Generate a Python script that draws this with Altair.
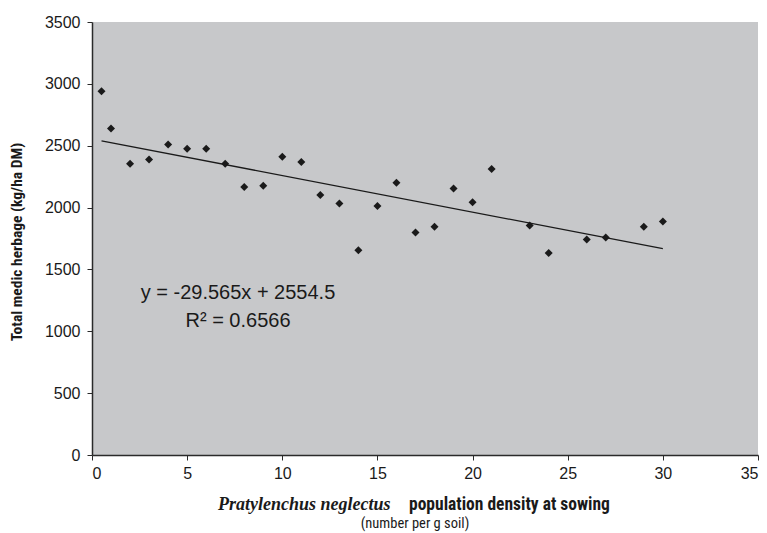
import altair as alt
import pandas as pd

# Data
density = [0.5, 1, 2, 3, 4, 5, 6, 7, 8, 9, 10, 11, 12, 13, 14, 15, 16, 17, 18, 19, 20, 21, 23, 24, 26, 27, 29, 30]
herbage = [2940, 2640, 2354, 2389, 2510, 2476, 2476, 2354, 2166, 2176, 2411, 2368, 2101, 2033, 1656, 2012,
           2200, 1799, 1845, 2155, 2044, 2311, 1855, 1632, 1742, 1758, 1845, 1888]

trend_x = [0.5, 30]
trend_y = [2539.7, 1667.6]

equation_lines = ["y = -29.565x + 2554.5", "R\u00b2 = 0.6566"]
x_ticks = [0, 5, 10, 15, 20, 25, 30, 35]
y_ticks = [0, 500, 1000, 1500, 2000, 2500, 3000, 3500]

pts = pd.DataFrame({"x": density, "y": herbage})
trend = pd.DataFrame({"x": trend_x, "y": trend_y})
one = pd.DataFrame({"k": [0]})

SANS = "Liberation Sans, Arial, Helvetica, sans-serif"
NARROW = "Liberation Sans Narrow, Arial Narrow, Roboto Condensed, DejaVu Sans Condensed, sans-serif"
SERIF = "Liberation Serif, Times New Roman, serif"

xscale = alt.Scale(domain=[0, 35], nice=False, zero=False)
yscale = alt.Scale(domain=[0, 3500], nice=False)

xaxis = alt.Axis(values=x_ticks, title=None, grid=False, format="d")
yaxis = alt.Axis(values=y_ticks, title=None, grid=False, format="d")

points = alt.Chart(pts).mark_point(shape="diamond", filled=True, color="#1a1a1a", size=64, opacity=1).encode(
    x=alt.X("x:Q", scale=xscale, axis=xaxis),
    y=alt.Y("y:Q", scale=yscale, axis=yaxis),
)

line = alt.Chart(trend).mark_line(color="#1a1a1a", strokeWidth=1.3).encode(
    x=alt.X("x:Q", scale=xscale),
    y=alt.Y("y:Q", scale=yscale),
)


def label(text, px, py, font, size, weight="normal", style="normal", align="center", angle=0, baseline="alphabetic"):
    kw = dict(text=text, font=font, fontSize=size, fontWeight=weight, fontStyle=style, align=align,
              baseline=baseline, color="#1a1a1a", angle=angle)
    return alt.Chart(one).mark_text(**kw).encode(x=alt.value(px), y=alt.value(py))


eq1 = label(equation_lines[0], 146, 277, SANS, 20)
eq2 = label(equation_lines[1], 146, 305, SANS, 20)

ytitle = label("Total medic herbage (kg/ha DM)", -75, 220, NARROW, 15.5, weight="bold", angle=270, baseline="middle")
xt1 = label("Pratylenchus neglectus", 126, 488, SERIF, 18, weight="bold", style="italic", align="left")
xt2 = label("population density at sowing", 317, 488, NARROW, 17.5, weight="bold", align="left")
xt3 = label("(number per g soil)", 323, 506, NARROW, 14.5)

chart = alt.layer(points, line, eq1, eq2, ytitle, xt1, xt2, xt3).properties(
    width=666, height=433,
    autosize=alt.AutoSizeParams(type="none"),
    padding={"left": 92, "top": 22, "right": 9, "bottom": 78},
    background="white",
).configure_view(
    fill="#c7c8ca", stroke=None
).configure_axis(
    domainColor="#2a2a2a", domainWidth=1.5, tickColor="#2a2a2a", tickSize=5, tickWidth=1,
    labelFont=SANS, labelFontSize=16, labelColor="#1a1a1a", labelPadding=5,
).configure_axisY(labelPadding=7)

chart.save("out.html", embed_options={"renderer": "svg", "actions": False})
